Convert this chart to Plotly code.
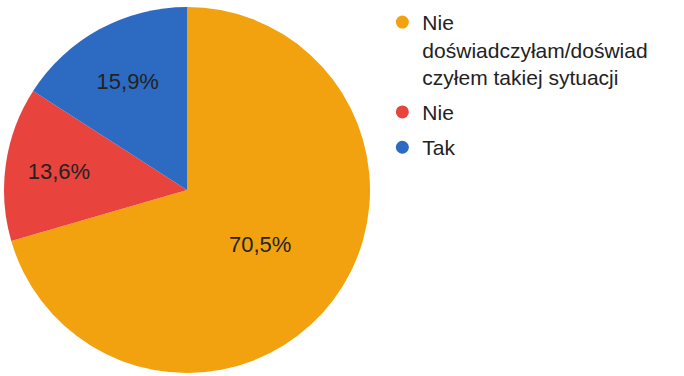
import plotly.graph_objects as go

labels = ["Nie doświadczyłam/doświadczyłem takiej sytuacji", "Nie", "Tak"]
legend_labels = ["Nie<br>doświadczyłam/doświad<br>czyłem takiej sytuacji", "Nie", "Tak"]
values = [70.5, 13.6, 15.9]
colors = ["#F2A20E", "#E8433D", "#2D6AC2"]

texts = [f"{v:.1f}".replace(".", ",") + "%" for v in values]

fig = go.Figure()
fig.add_trace(go.Pie(
    labels=labels,
    values=values,
    text=texts,
    textinfo="text",
    textposition="inside",
    insidetextorientation="horizontal",
    textfont=dict(family="Liberation Sans, Arial, sans-serif", size=22, color="#222222"),
    marker=dict(colors=colors, line=dict(width=0)),
    sort=False,
    direction="clockwise",
    rotation=0,
    showlegend=False,
    hoverinfo="label+percent",
    domain=dict(x=[4/684, 370/684], y=[3/376, 369/376]),
))

for i, (lab, col) in enumerate(zip(legend_labels, colors)):
    fig.add_trace(go.Scatter(
        x=[None], y=[None], mode="markers", name=lab, legendgroup=f"g{i}",
        marker=dict(color=col, size=13, symbol="circle"),
    ))

fig.update_layout(
    width=684, height=376,
    margin=dict(l=0, r=0, t=0, b=0),
    paper_bgcolor="white", plot_bgcolor="white",
    xaxis=dict(visible=False), yaxis=dict(visible=False),
    legend=dict(
        x=0.559, y=0.995, xanchor="left", yanchor="top",
        valign="top",
        font=dict(family="Liberation Sans, Arial, sans-serif", size=21, color="#222222"),
        bgcolor="rgba(0,0,0,0)",
        tracegroupgap=5,
    ),
)

fig.write_html("out.html", config={"displayModeBar": False},
               post_script="document.body.style.margin='0';")
